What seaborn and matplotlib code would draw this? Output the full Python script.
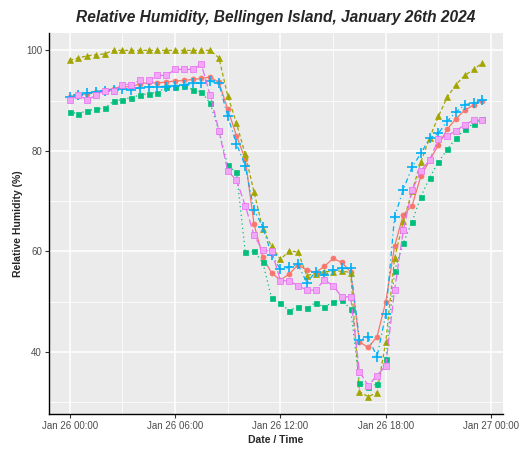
import pandas as pd
import matplotlib
matplotlib.use('Agg')
import matplotlib.pyplot as plt
import matplotlib.dates as mdates
import seaborn as sns

# half-hourly readings, 26 Jan 2024
times = pd.date_range('2024-01-26 00:00', periods=48, freq='30min')

rh_red = [90.7, 91.0, 91.4, 91.7, 92.0, 92.4, 92.7, 92.8, 93.3, 93.6, 93.5, 93.7,
          93.9, 94.0, 94.2, 94.4, 94.7, 93.6, 88.3, 83.0, 78.3, 65.4, 58.8, 55.7,
          54.3, 55.5, 57.3, 56.3, 55.8, 57.0, 58.6, 57.8, 55.9, 42.0, 40.9, 43.0,
          50.0, 61.0, 67.3, 69.1, 75.0, 78.1, 81.2, 84.3, 86.4, 88.1, 89.1, 90.0]
rh_olive = [98.0, 98.5, 98.9, 99.1, 99.3, 100.0, 100.0, 100.0, 100.0, 100.0, 100.0, 100.0,
            100.0, 100.0, 100.0, 100.0, 100.0, 98.5, 91.0, 85.5, 79.3, 71.8, 64.4, 61.0,
            58.4, 60.1, 59.9, 55.2, 55.6, 56.0, 56.0, 56.1, 55.8, 32.1, 31.1, 31.9,
            42.0, 58.6, 66.0, 72.0, 77.8, 82.6, 86.9, 90.7, 93.2, 95.0, 96.2, 97.5]
rh_green = [87.7, 87.4, 88.0, 88.3, 88.5, 89.9, 90.2, 90.6, 91.1, 91.4, 91.6, 92.7,
            92.7, 92.9, 92.2, 91.7, 89.5, 84.0, 77.1, 75.7, 59.9, 60.0, 57.8, 50.7,
            49.7, 48.2, 49.0, 48.7, 49.8, 48.9, 50.0, 50.3, 48.5, 33.8, 33.0, 33.6,
            38.5, 56.1, 61.7, 65.9, 70.9, 74.7, 77.8, 80.3, 82.5, 84.3, 85.4, 86.4]
rh_blue = [90.7, 91.1, 91.5, 91.8, 92.0, 92.2, 92.4, 92.2, 92.6, 92.7, 92.8, 92.8,
           93.0, 93.2, 93.4, 93.5, 93.9, 93.4, 86.9, 81.4, 77.0, 68.2, 64.9, 59.3,
           56.4, 56.8, 57.4, 53.8, 55.9, 55.3, 56.3, 56.6, 56.6, 42.4, 42.9, 39.0,
           47.5, 66.9, 72.3, 76.8, 79.5, 82.5, 83.5, 85.9, 87.7, 89.2, 89.5, 90.2]
rh_pink = [90.1, 91.1, 90.1, 91.1, 92.0, 92.0, 93.2, 93.2, 94.0, 94.0, 95.0, 95.0,
           96.2, 96.2, 96.2, 97.2, 91.1, 84.0, 76.0, 74.2, 69.1, 63.2, 60.2, 60.1,
           54.2, 54.1, 53.2, 52.3, 52.3, 54.3, 53.2, 50.9, 51.0, 36.1, 33.3, 35.3,
           37.3, 52.3, 64.2, 72.2, 76.0, 78.2, 82.3, 83.0, 84.0, 85.2, 86.1, 86.1]

series = ['1', '2', '3', '4', '5']
values = [rh_red, rh_olive, rh_green, rh_blue, rh_pink]

df = pd.concat([pd.DataFrame({'time': times, 'rh': v, 'sensor': s})
                for s, v in zip(series, values)], ignore_index=True)

colours = ['#F8766D', '#A3A500', '#00BF7D', '#00B0F6', '#E76BF3']
markers = ['o', '^', 's', '+', 's']
msizes = [3.6, 4.0, 3.6, 6.5, 4.2]
dashes = ['-', (0, (3, 2)), (0, (1, 2.5)), (0, (1, 2.5, 4, 2.5)), (0, (6, 2.5))]

sns.set_theme(style='darkgrid')
plt.rcParams['font.family'] = ['Liberation Sans', 'DejaVu Sans']

fig = plt.figure(figsize=(5.28, 4.5), dpi=100)
ax = fig.add_axes([49 / 528, 1 - 414 / 450, 454 / 528, 381 / 450])
ax.set_facecolor('#EBEBEB')

for s, c, m, ms, ls in zip(series, colours, markers, msizes, dashes):
    sub = df[df['sensor'] == s]
    sns.lineplot(data=sub, x='time', y='rh', color=c, ax=ax, legend=False,
                 linewidth=0.9, linestyle=ls, marker=m, markersize=ms,
                 markeredgewidth=1.2 if m == '+' else 0.5,
                 markerfacecolor='#F2A6F6' if s == '5' else c,
                 markeredgecolor=c)

# ggplot style expansion of 5%
t0, t1 = df['time'].min(), df['time'].max()
pad = (t1 - t0) * 0.05
ax.set_xlim(t0 - pad, t1 + pad)
lo, hi = df['rh'].min(), df['rh'].max()
ax.set_ylim(lo - 0.05 * (hi - lo), hi + 0.05 * (hi - lo))

ax.xaxis.set_major_locator(mdates.HourLocator(byhour=[0, 6, 12, 18]))
ax.xaxis.set_minor_locator(mdates.HourLocator(byhour=[3, 9, 15, 21]))
ax.xaxis.set_major_formatter(mdates.DateFormatter('%b %d %H:%M'))
ax.set_yticks([40, 60, 80, 100])
ax.set_yticks([30, 50, 70, 90], minor=True)

ax.grid(which='major', color='white', linewidth=1.1)
ax.grid(which='minor', color='white', linewidth=0.55)
ax.set_axisbelow(True)
for side in ['top', 'right']:
    ax.spines[side].set_visible(False)
for side in ['left', 'bottom']:
    ax.spines[side].set_visible(True)
    ax.spines[side].set_color('black')
    ax.spines[side].set_linewidth(1.0)

ax.tick_params(which='major', length=3, width=0.8, color='#333333',
               labelsize=7, labelcolor='#4D4D4D', pad=2, bottom=True, left=True)
ax.tick_params(which='minor', length=0)

ax.set_xlabel('Date / Time', fontsize=7.5, fontweight='bold', labelpad=3)
ax.set_ylabel('Relative Humidity (%)', fontsize=7.5, fontweight='bold', labelpad=2)
ax.set_title('Relative Humidity, Bellingen Island, January 26th 2024',
             fontsize=11.2, fontweight='bold', fontstyle='italic', pad=8)

fig.savefig('out.png', dpi=100)
